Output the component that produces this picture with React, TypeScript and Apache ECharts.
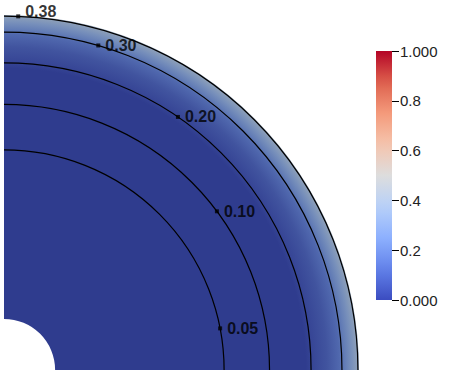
import React, { useEffect, useRef } from "react";
import * as echarts from "echarts";

// Contour levels (labels), their radii (fraction of outer radius) and label angles (deg)
const CONTOUR_LEVELS = ["0.38", "0.30", "0.20", "0.10", "0.05"];
const CONTOUR_RADII = [0.997, 0.952, 0.865, 0.748, 0.62];
const LABEL_ANGLES = [87.7, 73.8, 55.5, 36.7, 10.9];

// Domain: quarter annulus
const INNER_RADIUS = 0.144;
const OUTER_RADIUS = 1.0;

// Colored field profile along the radius
const FIELD_RADII = [0.144, 0.85, 0.87, 0.91, 0.945, 0.96, 0.98, 1.0];
const FIELD_VALUES = [0.0, 0.0, 0.03, 0.07, 0.13, 0.2, 0.28, 0.37];

// Colorbar
const COLORBAR_MIN = 0;
const COLORBAR_MAX = 1;
const COLORBAR_STEP = 0.2;

// Cool-warm colormap
const CMAP_POS = [0, 0.125, 0.25, 0.375, 0.5, 0.625, 0.75, 0.875, 1];
const CMAP_RGB = [
  [59, 76, 192],
  [98, 130, 234],
  [141, 176, 254],
  [184, 208, 249],
  [221, 221, 221],
  [245, 196, 173],
  [244, 154, 123],
  [222, 96, 77],
  [180, 4, 38],
];

function cmap(v: number): number[] {
  if (v <= CMAP_POS[0]) return CMAP_RGB[0];
  for (let i = 1; i < CMAP_POS.length; i++) {
    if (v <= CMAP_POS[i]) {
      const t = (v - CMAP_POS[i - 1]) / (CMAP_POS[i] - CMAP_POS[i - 1]);
      const a = CMAP_RGB[i - 1];
      const b = CMAP_RGB[i];
      return [0, 1, 2].map((k) => a[k] + (b[k] - a[k]) * t);
    }
  }
  return CMAP_RGB[CMAP_RGB.length - 1];
}

const SHADE = [0.8, 0.79, 0.74];
function shaded(v: number): string {
  const c = cmap(v);
  return `rgb(${Math.round(c[0] * SHADE[0])},${Math.round(c[1] * SHADE[1])},${Math.round(c[2] * SHADE[2])})`;
}
function plain(v: number): string {
  const c = cmap(v);
  return `rgb(${Math.round(c[0])},${Math.round(c[1])},${Math.round(c[2])})`;
}

export default function App() {
  const ref = useRef<HTMLDivElement>(null);
  useEffect(() => {
    document.body.style.margin = "0";
    if (!ref.current) return;
    const chart = echarts.init(ref.current, undefined, { renderer: "svg" });

    const fieldStops = FIELD_RADII.map((r, i) => ({ offset: r / OUTER_RADIUS, color: shaded(FIELD_VALUES[i]) }));
    fieldStops.unshift({ offset: 0, color: shaded(FIELD_VALUES[0]) });

    const barStops: { offset: number; color: string }[] = [];
    for (let i = 0; i <= 20; i++) {
      const v = i / 20;
      barStops.push({ offset: v, color: plain(v) });
    }

    const geo = (api: any) => {
      const c0 = api.coord([0, 0]);
      const rp = (v: number) => {
        const p = api.coord([v, 0]);
        return Math.hypot(p[0] - c0[0], p[1] - c0[1]);
      };
      return { cx: c0[0], cy: c0[1], rp };
    };

    const option: any = {
      animation: false,
      textStyle: { fontFamily: "Liberation Sans, Arial, sans-serif" },
      polar: { center: [4, 370], radius: 355 },
      radiusAxis: {
        type: "value",
        min: 0,
        max: OUTER_RADIUS,
        axisLine: { show: false },
        axisTick: { show: false },
        axisLabel: { show: false },
        splitLine: { show: false },
      },
      angleAxis: {
        type: "value",
        min: 0,
        max: 360,
        startAngle: 0,
        clockwise: false,
        axisLine: { show: false },
        axisTick: { show: false },
        axisLabel: { show: false },
        splitLine: { show: false },
      },
      grid: { left: 376, top: 51, width: 16, height: 249 },
      xAxis: { type: "category", data: ["bar"], show: false, gridIndex: 0 },
      yAxis: [
        {
          type: "value",
          gridIndex: 0,
          min: COLORBAR_MIN,
          max: COLORBAR_MAX,
          interval: COLORBAR_STEP,
          position: "right",
          axisLine: { show: false },
          splitLine: { show: false },
          axisTick: { show: true, length: 7, lineStyle: { color: "#000", width: 1 } },
          axisLabel: {
            margin: 8,
            fontSize: 15,
            color: "#222",
            formatter: (v: number) => (v === COLORBAR_MIN || v === COLORBAR_MAX ? v.toFixed(3) : v.toFixed(1)),
          },
        },
        {
          type: "value",
          gridIndex: 0,
          min: COLORBAR_MIN,
          max: COLORBAR_MAX,
          interval: COLORBAR_STEP,
          position: "right",
          axisLine: { show: false },
          splitLine: { show: false },
          axisLabel: { show: false },
          axisTick: {
            show: true,
            inside: true,
            length: 4,
            customValues: [0.2, 0.4, 0.6, 0.8],
            lineStyle: { color: "#000", width: 1 },
          },
        },
      ],
      series: [
        {
          type: "custom",
          coordinateSystem: "polar",
          data: [[OUTER_RADIUS, 90]],
          silent: true,
          z: 1,
          renderItem: (params: any, api: any) => {
            const g = geo(api);
            const R = g.rp(OUTER_RADIUS);
            return {
              type: "sector",
              shape: {
                cx: g.cx,
                cy: g.cy,
                r0: g.rp(INNER_RADIUS),
                r: R,
                startAngle: -Math.PI / 2,
                endAngle: 0,
                clockwise: true,
              },
              style: {
                fill: new echarts.graphic.RadialGradient(g.cx, g.cy, R, fieldStops, true),
              },
            };
          },
        },
        {
          type: "custom",
          coordinateSystem: "polar",
          data: CONTOUR_RADII.map((r) => [r, 0]),
          silent: true,
          z: 2,
          renderItem: (params: any, api: any) => {
            const g = geo(api);
            return {
              type: "arc",
              shape: {
                cx: g.cx,
                cy: g.cy,
                r: g.rp(api.value(0)),
                startAngle: -Math.PI / 2,
                endAngle: 0,
                clockwise: true,
              },
              style: { stroke: "#000", lineWidth: 1.2, fill: null },
            };
          },
        },
        {
          type: "scatter",
          coordinateSystem: "polar",
          symbol: "rect",
          symbolSize: 4,
          z: 3,
          itemStyle: { color: "#000" },
          data: CONTOUR_RADII.map((r, i) => ({
            value: [r, LABEL_ANGLES[i]],
            label: i === 0 ? { offset: [0, -5] } : {},
          })),
          label: {
            show: true,
            position: "right",
            distance: 5,
            fontSize: 16,
            fontWeight: "bold",
            color: "#000",
            textBorderWidth: 0,
            formatter: (p: any) => CONTOUR_LEVELS[p.dataIndex],
          },
        },
        {
          type: "bar",
          xAxisIndex: 0,
          yAxisIndex: 0,
          data: [COLORBAR_MAX],
          barWidth: "100%",
          silent: true,
          itemStyle: { color: new echarts.graphic.LinearGradient(0, 1, 0, 0, barStops) },
        },
      ],
    };
    chart.setOption(option);
    return () => chart.dispose();
  }, []);
  return <div ref={ref} style={{ width: 450, height: 375 }} />;
}
